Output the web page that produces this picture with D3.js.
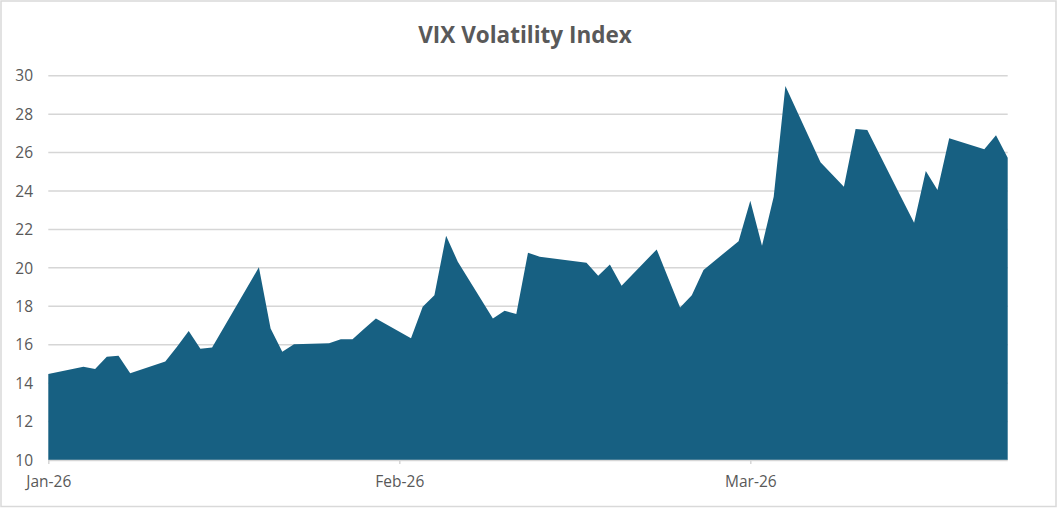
<!DOCTYPE html>
<html>
<head>
<meta charset="utf-8">
<script src="https://cdn.jsdelivr.net/npm/d3@7/dist/d3.min.js"></script>
<style>
  html, body { margin: 0; padding: 0; background: #fff; }
  svg { display: block; }
  text { font-family: "Open Sans", "Noto Sans", sans-serif; fill: #595959; }
</style>
</head>
<body>
<svg id="chart" width="1058" height="508"></svg>
<script>
// ---- data ----
const dates = [
  "2026-01-02","2026-01-05","2026-01-06","2026-01-07","2026-01-08","2026-01-09",
  "2026-01-12","2026-01-13","2026-01-14","2026-01-15","2026-01-16",
  "2026-01-20","2026-01-21","2026-01-22","2026-01-23",
  "2026-01-26","2026-01-27","2026-01-28","2026-01-29","2026-01-30",
  "2026-02-02","2026-02-03","2026-02-04","2026-02-05","2026-02-06",
  "2026-02-09","2026-02-10","2026-02-11","2026-02-12","2026-02-13",
  "2026-02-17","2026-02-18","2026-02-19","2026-02-20",
  "2026-02-23","2026-02-24","2026-02-25","2026-02-26","2026-02-27",
  "2026-03-02","2026-03-03","2026-03-04","2026-03-05","2026-03-06",
  "2026-03-09","2026-03-10","2026-03-11","2026-03-12","2026-03-13",
  "2026-03-16","2026-03-17","2026-03-18","2026-03-19","2026-03-20",
  "2026-03-23","2026-03-24","2026-03-25"
];
const vix = [
  14.47,14.85,14.73,15.37,15.43,14.51,
  15.12,15.90,16.71,15.79,15.85,
  20.03,16.85,15.63,16.03,
  16.08,16.29,16.29,16.83,17.37,
  16.33,17.98,18.58,21.67,20.32,
  17.37,17.77,17.60,20.79,20.58,
  20.27,19.59,20.18,19.07,
  20.96,19.45,17.94,18.58,19.89,
  21.39,23.49,21.15,23.70,29.46,
  25.49,24.86,24.22,27.22,27.17,
  23.55,22.35,25.04,24.05,26.74,
  26.17,26.90,25.73
];
const xTickDates = ["2026-01-02","2026-02-01","2026-03-03"];
const yTicks = [10,12,14,16,18,20,22,24,26,28,30];
const chartTitle = "VIX Volatility Index";

// ---- layout ----
const W = 1058, H = 508;
const mLeft = 48.3, mRight = 1007.7, mTop = 75.7, mBottom = 460;

const parse = d3.utcParse("%Y-%m-%d");
const data = dates.map((d, i) => ({ date: parse(d), value: vix[i] }));

const svg = d3.select("#chart");

// chart-area border
svg.append("rect")
  .attr("x", 1).attr("y", 1).attr("width", W - 3).attr("height", H - 2.5)
  .attr("fill", "#fff").attr("stroke", "#d9d9d9").attr("stroke-width", 1.5);

const x = d3.scaleUtc()
  .domain([parse(dates[0]), parse(dates[dates.length - 1])])
  .range([mLeft, mRight]);
const y = d3.scaleLinear().domain([10, 30]).range([mBottom, mTop]);

// gridlines
svg.append("g")
  .selectAll("line")
  .data(yTicks.filter(t => t > 10))
  .join("line")
  .attr("x1", mLeft).attr("x2", mRight)
  .attr("y1", d => y(d)).attr("y2", d => y(d))
  .attr("stroke", "#d6d6d6").attr("stroke-width", 1.5);

// area
const area = d3.area()
  .x(d => x(d.date))
  .y0(y(10))
  .y1(d => y(d.value));
svg.append("path")
  .datum(data)
  .attr("d", area)
  .attr("fill", "#176082");

// y axis labels
const yAxis = d3.axisLeft(y).tickValues(yTicks).tickSize(0).tickPadding(0).tickFormat(d3.format("d"));
const gy = svg.append("g").attr("transform", "translate(33,0)").call(yAxis);
gy.select(".domain").remove();
gy.selectAll("text")
  .attr("font-size", 15.5)
  .attr("dy", "0.34em")
  .style("font-family", '"Open Sans", "Noto Sans", sans-serif')
  .attr("fill", "#595959");

// x axis
const xAxis = d3.axisBottom(x)
  .tickValues(xTickDates.map(parse))
  .tickSize(4)
  .tickPadding(12)
  .tickFormat(d3.utcFormat("%b-%y"));
const gx = svg.append("g").attr("transform", `translate(0,${mBottom})`).call(xAxis);
gx.select(".domain")
  .attr("d", `M${mLeft},0.5H${mRight}`)
  .attr("stroke", "#d6d6d6").attr("stroke-width", 1.5);
gx.selectAll(".tick line").attr("stroke", "#d6d6d6").attr("stroke-width", 1.5);
gx.selectAll("text")
  .attr("font-size", 15.5)
  .style("font-family", '"Open Sans", "Noto Sans", sans-serif')
  .attr("fill", "#595959");

// title
svg.append("text")
  .attr("x", 525).attr("y", 43)
  .attr("text-anchor", "middle")
  .attr("font-size", 22.5)
  .attr("font-weight", "bold")
  .text(chartTitle);
</script>
</body>
</html>
